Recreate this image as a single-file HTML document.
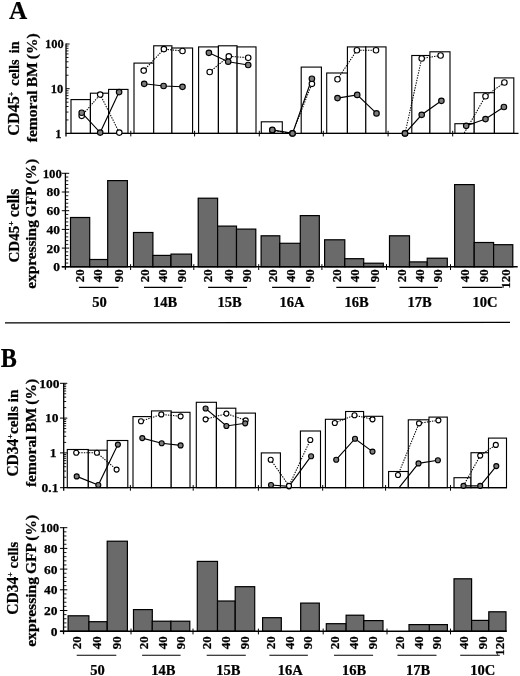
<!DOCTYPE html>
<html><head><meta charset="utf-8"><title>Figure</title>
<style>html,body{margin:0;padding:0;background:#fff;overflow:hidden}svg{display:block}</style></head>
<body>
<svg width="520" height="676" viewBox="0 0 520 676">
<rect width="520" height="676" fill="#fff"/>
<defs><filter id="soft" x="-2%" y="-2%" width="104%" height="104%"><feGaussianBlur stdDeviation="0.32"/></filter></defs>
<g filter="url(#soft)">
<text transform="translate(8.9,18.7) scale(0.97,1)" font-size="26" text-anchor="start" font-family="Liberation Serif, serif" font-weight="bold" stroke="#000" stroke-width="0.25">A</text>
<text transform="translate(0.7,366.8) scale(0.91,1)" font-size="26.5" text-anchor="start" font-family="Liberation Serif, serif" font-weight="bold" stroke="#000" stroke-width="0.25">B</text>
<rect x="71" y="99.6" width="19.4" height="33.8" fill="#fff" stroke="#000" stroke-width="1.12"/>
<rect x="90.4" y="93.2" width="18.2" height="40.2" fill="#fff" stroke="#000" stroke-width="1.12"/>
<rect x="108.6" y="89.4" width="19.4" height="44" fill="#fff" stroke="#000" stroke-width="1.12"/>
<rect x="134" y="63.1" width="19.7" height="70.3" fill="#fff" stroke="#000" stroke-width="1.12"/>
<rect x="153.7" y="45.8" width="18.2" height="87.6" fill="#fff" stroke="#000" stroke-width="1.12"/>
<rect x="171.9" y="48" width="20.7" height="85.4" fill="#fff" stroke="#000" stroke-width="1.12"/>
<rect x="198.6" y="46.9" width="19.8" height="86.5" fill="#fff" stroke="#000" stroke-width="1.12"/>
<rect x="218.4" y="45.8" width="18.7" height="87.6" fill="#fff" stroke="#000" stroke-width="1.12"/>
<rect x="237.1" y="46.9" width="18.9" height="86.5" fill="#fff" stroke="#000" stroke-width="1.12"/>
<rect x="261.3" y="121.8" width="21" height="11.6" fill="#fff" stroke="#000" stroke-width="1.12"/>
<rect x="301.2" y="67.1" width="20.2" height="66.3" fill="#fff" stroke="#000" stroke-width="1.12"/>
<rect x="326.7" y="73" width="20.7" height="60.4" fill="#fff" stroke="#000" stroke-width="1.12"/>
<rect x="347.4" y="46.9" width="18.4" height="86.5" fill="#fff" stroke="#000" stroke-width="1.12"/>
<rect x="365.8" y="46.9" width="20.2" height="86.5" fill="#fff" stroke="#000" stroke-width="1.12"/>
<rect x="411.8" y="55.5" width="18.1" height="77.9" fill="#fff" stroke="#000" stroke-width="1.12"/>
<rect x="429.9" y="51.8" width="20.1" height="81.6" fill="#fff" stroke="#000" stroke-width="1.12"/>
<rect x="454.9" y="123.7" width="19.3" height="9.7" fill="#fff" stroke="#000" stroke-width="1.12"/>
<rect x="474.2" y="92.7" width="20.2" height="40.7" fill="#fff" stroke="#000" stroke-width="1.12"/>
<rect x="494.4" y="77.9" width="19.4" height="55.5" fill="#fff" stroke="#000" stroke-width="1.12"/>
<line x1="66" y1="43.6" x2="66" y2="136.4" stroke="#000" stroke-width="1.3"/>
<line x1="65.5" y1="133.4" x2="518.5" y2="133.4" stroke="#000" stroke-width="1.3"/>
<line x1="66" y1="119.94" x2="68.5" y2="119.94" stroke="#000" stroke-width="0.9"/>
<line x1="66" y1="112.07" x2="68.5" y2="112.07" stroke="#000" stroke-width="0.9"/>
<line x1="66" y1="106.49" x2="68.5" y2="106.49" stroke="#000" stroke-width="0.9"/>
<line x1="66" y1="102.16" x2="68.5" y2="102.16" stroke="#000" stroke-width="0.9"/>
<line x1="66" y1="98.62" x2="68.5" y2="98.62" stroke="#000" stroke-width="0.9"/>
<line x1="66" y1="95.62" x2="68.5" y2="95.62" stroke="#000" stroke-width="0.9"/>
<line x1="66" y1="93.03" x2="68.5" y2="93.03" stroke="#000" stroke-width="0.9"/>
<line x1="66" y1="90.75" x2="68.5" y2="90.75" stroke="#000" stroke-width="0.9"/>
<line x1="66" y1="75.24" x2="68.5" y2="75.24" stroke="#000" stroke-width="0.9"/>
<line x1="66" y1="67.37" x2="68.5" y2="67.37" stroke="#000" stroke-width="0.9"/>
<line x1="66" y1="61.79" x2="68.5" y2="61.79" stroke="#000" stroke-width="0.9"/>
<line x1="66" y1="57.46" x2="68.5" y2="57.46" stroke="#000" stroke-width="0.9"/>
<line x1="66" y1="53.92" x2="68.5" y2="53.92" stroke="#000" stroke-width="0.9"/>
<line x1="66" y1="50.92" x2="68.5" y2="50.92" stroke="#000" stroke-width="0.9"/>
<line x1="66" y1="48.33" x2="68.5" y2="48.33" stroke="#000" stroke-width="0.9"/>
<line x1="66" y1="46.05" x2="68.5" y2="46.05" stroke="#000" stroke-width="0.9"/>
<line x1="66" y1="88.7" x2="69.6" y2="88.7" stroke="#000" stroke-width="1"/>
<line x1="66" y1="44" x2="69.6" y2="44" stroke="#000" stroke-width="1"/>
<text transform="translate(61.4,137.8) scale(0.96,1)" font-size="13" text-anchor="end" font-family="Liberation Serif, serif" font-weight="bold" stroke="#000" stroke-width="0.25">1</text>
<text transform="translate(63.3,93.1) scale(0.96,1)" font-size="13" text-anchor="end" font-family="Liberation Serif, serif" font-weight="bold" stroke="#000" stroke-width="0.25">10</text>
<text transform="translate(63.8,48.4) scale(0.96,1)" font-size="13" text-anchor="end" font-family="Liberation Serif, serif" font-weight="bold" stroke="#000" stroke-width="0.25">100</text>
<line x1="130.8" y1="130.8" x2="130.8" y2="136.4" stroke="#000" stroke-width="1"/>
<line x1="194.6" y1="130.8" x2="194.6" y2="136.4" stroke="#000" stroke-width="1"/>
<line x1="259.3" y1="130.8" x2="259.3" y2="136.4" stroke="#000" stroke-width="1"/>
<line x1="323.3" y1="130.8" x2="323.3" y2="136.4" stroke="#000" stroke-width="1"/>
<line x1="388.1" y1="130.8" x2="388.1" y2="136.4" stroke="#000" stroke-width="1"/>
<line x1="452.7" y1="130.8" x2="452.7" y2="136.4" stroke="#000" stroke-width="1"/>
<polyline points="81.7,115.8 100.2,94.6 119.3,132.6" fill="none" stroke="#000" stroke-width="1.05" stroke-dasharray="1.4 1.15"/>
<polyline points="143.7,70.6 163.9,49.1 182.5,51" fill="none" stroke="#000" stroke-width="1.05" stroke-dasharray="1.4 1.15"/>
<polyline points="209.7,72 228.8,56.3 248.2,57.7" fill="none" stroke="#000" stroke-width="1.05" stroke-dasharray="1.4 1.15"/>
<polyline points="272.3,130.5 292.5,133.4 311.9,83.8" fill="none" stroke="#000" stroke-width="1.05" stroke-dasharray="1.4 1.15"/>
<polyline points="337.5,79.2 356.9,50.2 376,50.2" fill="none" stroke="#000" stroke-width="1.05" stroke-dasharray="1.4 1.15"/>
<polyline points="405,133.4 421.7,58.5 440.6,55.5" fill="none" stroke="#000" stroke-width="1.05" stroke-dasharray="1.4 1.15"/>
<polyline points="464.3,133 485.5,96.2 504.4,82.5" fill="none" stroke="#000" stroke-width="1.05" stroke-dasharray="1.4 1.15"/>
<polyline points="81.7,112.7 100.2,132.6 119.1,92.1" fill="none" stroke="#000" stroke-width="1.15"/>
<polyline points="144.2,83.8 163.6,86 182.5,86.8" fill="none" stroke="#000" stroke-width="1.15"/>
<polyline points="208.9,52.8 228.2,61.7 248.2,65" fill="none" stroke="#000" stroke-width="1.15"/>
<polyline points="272.3,129.9 292.5,133.4 311.9,78.7" fill="none" stroke="#000" stroke-width="1.15"/>
<polyline points="337.5,98.1 357.2,94.9 376.5,113.4" fill="none" stroke="#000" stroke-width="1.15"/>
<polyline points="405,133.4 421.7,114.8 441.4,100.8" fill="none" stroke="#000" stroke-width="1.15"/>
<polyline points="466.2,125.8 485.5,119.1 503.9,107" fill="none" stroke="#000" stroke-width="1.15"/>
<circle cx="81.7" cy="115.8" r="2.75" fill="#fff" stroke="#000" stroke-width="1.15"/>
<circle cx="100.2" cy="94.6" r="2.75" fill="#fff" stroke="#000" stroke-width="1.15"/>
<circle cx="119.3" cy="132.6" r="2.75" fill="#fff" stroke="#000" stroke-width="1.15"/>
<circle cx="143.7" cy="70.6" r="2.75" fill="#fff" stroke="#000" stroke-width="1.15"/>
<circle cx="163.9" cy="49.1" r="2.75" fill="#fff" stroke="#000" stroke-width="1.15"/>
<circle cx="182.5" cy="51" r="2.75" fill="#fff" stroke="#000" stroke-width="1.15"/>
<circle cx="209.7" cy="72" r="2.75" fill="#fff" stroke="#000" stroke-width="1.15"/>
<circle cx="228.8" cy="56.3" r="2.75" fill="#fff" stroke="#000" stroke-width="1.15"/>
<circle cx="248.2" cy="57.7" r="2.75" fill="#fff" stroke="#000" stroke-width="1.15"/>
<circle cx="272.3" cy="130.5" r="2.75" fill="#fff" stroke="#000" stroke-width="1.15"/>
<circle cx="292.5" cy="133.4" r="2.75" fill="#fff" stroke="#000" stroke-width="1.15"/>
<circle cx="311.9" cy="83.8" r="2.75" fill="#fff" stroke="#000" stroke-width="1.15"/>
<circle cx="337.5" cy="79.2" r="2.75" fill="#fff" stroke="#000" stroke-width="1.15"/>
<circle cx="356.9" cy="50.2" r="2.75" fill="#fff" stroke="#000" stroke-width="1.15"/>
<circle cx="376" cy="50.2" r="2.75" fill="#fff" stroke="#000" stroke-width="1.15"/>
<circle cx="405" cy="133.4" r="2.75" fill="#fff" stroke="#000" stroke-width="1.15"/>
<circle cx="421.7" cy="58.5" r="2.75" fill="#fff" stroke="#000" stroke-width="1.15"/>
<circle cx="440.6" cy="55.5" r="2.75" fill="#fff" stroke="#000" stroke-width="1.15"/>
<circle cx="485.5" cy="96.2" r="2.75" fill="#fff" stroke="#000" stroke-width="1.15"/>
<circle cx="504.4" cy="82.5" r="2.75" fill="#fff" stroke="#000" stroke-width="1.15"/>
<circle cx="81.7" cy="112.7" r="2.75" fill="#7d7d7d" stroke="#000" stroke-width="1.15"/>
<circle cx="100.2" cy="132.6" r="2.75" fill="#7d7d7d" stroke="#000" stroke-width="1.15"/>
<circle cx="119.1" cy="92.1" r="2.75" fill="#7d7d7d" stroke="#000" stroke-width="1.15"/>
<circle cx="144.2" cy="83.8" r="2.75" fill="#7d7d7d" stroke="#000" stroke-width="1.15"/>
<circle cx="163.6" cy="86" r="2.75" fill="#7d7d7d" stroke="#000" stroke-width="1.15"/>
<circle cx="182.5" cy="86.8" r="2.75" fill="#7d7d7d" stroke="#000" stroke-width="1.15"/>
<circle cx="208.9" cy="52.8" r="2.75" fill="#7d7d7d" stroke="#000" stroke-width="1.15"/>
<circle cx="228.2" cy="61.7" r="2.75" fill="#7d7d7d" stroke="#000" stroke-width="1.15"/>
<circle cx="248.2" cy="65" r="2.75" fill="#7d7d7d" stroke="#000" stroke-width="1.15"/>
<circle cx="272.3" cy="129.9" r="2.75" fill="#7d7d7d" stroke="#000" stroke-width="1.15"/>
<circle cx="292.5" cy="133.4" r="2.75" fill="#7d7d7d" stroke="#000" stroke-width="1.15"/>
<circle cx="311.9" cy="78.7" r="2.75" fill="#7d7d7d" stroke="#000" stroke-width="1.15"/>
<circle cx="337.5" cy="98.1" r="2.75" fill="#7d7d7d" stroke="#000" stroke-width="1.15"/>
<circle cx="357.2" cy="94.9" r="2.75" fill="#7d7d7d" stroke="#000" stroke-width="1.15"/>
<circle cx="376.5" cy="113.4" r="2.75" fill="#7d7d7d" stroke="#000" stroke-width="1.15"/>
<circle cx="405" cy="133.4" r="2.75" fill="#7d7d7d" stroke="#000" stroke-width="1.15"/>
<circle cx="421.7" cy="114.8" r="2.75" fill="#7d7d7d" stroke="#000" stroke-width="1.15"/>
<circle cx="441.4" cy="100.8" r="2.75" fill="#7d7d7d" stroke="#000" stroke-width="1.15"/>
<circle cx="466.2" cy="125.8" r="2.75" fill="#7d7d7d" stroke="#000" stroke-width="1.15"/>
<circle cx="485.5" cy="119.1" r="2.75" fill="#7d7d7d" stroke="#000" stroke-width="1.15"/>
<circle cx="503.9" cy="107" r="2.75" fill="#7d7d7d" stroke="#000" stroke-width="1.15"/>
<text transform="translate(18.9,135.7) rotate(-90)" font-size="14.6" textLength="94.4" lengthAdjust="spacingAndGlyphs" word-spacing="2.5" font-family="Liberation Serif, serif" font-weight="bold" stroke="#000" stroke-width="0.25"><tspan font-size="16.4">CD45</tspan><tspan font-size="7.88" dy="-4.82">+</tspan><tspan dy="4.82"> cells in</tspan></text>
<text transform="translate(36.6,142.3) rotate(-90)" font-size="14.6" textLength="109.1" lengthAdjust="spacingAndGlyphs" word-spacing="-0.8" font-family="Liberation Serif, serif" font-weight="bold" stroke="#000" stroke-width="0.25">femoral BM (%)</text>
<rect x="70.5" y="217.5" width="19.2" height="49.3" fill="#6b6b6b" stroke="#000" stroke-width="1.2"/>
<rect x="89.7" y="259.5" width="18" height="7.3" fill="#6b6b6b" stroke="#000" stroke-width="1.2"/>
<rect x="107.7" y="180.6" width="19.7" height="86.2" fill="#6b6b6b" stroke="#000" stroke-width="1.2"/>
<rect x="133.5" y="232.5" width="19.4" height="34.3" fill="#6b6b6b" stroke="#000" stroke-width="1.2"/>
<rect x="152.9" y="255.4" width="18.1" height="11.4" fill="#6b6b6b" stroke="#000" stroke-width="1.2"/>
<rect x="171" y="254.1" width="20.5" height="12.7" fill="#6b6b6b" stroke="#000" stroke-width="1.2"/>
<rect x="198.2" y="198.2" width="19.4" height="68.6" fill="#6b6b6b" stroke="#000" stroke-width="1.2"/>
<rect x="217.6" y="226.1" width="18.9" height="40.7" fill="#6b6b6b" stroke="#000" stroke-width="1.2"/>
<rect x="236.5" y="229.1" width="19.3" height="37.7" fill="#6b6b6b" stroke="#000" stroke-width="1.2"/>
<rect x="261.1" y="235.8" width="18.7" height="31" fill="#6b6b6b" stroke="#000" stroke-width="1.2"/>
<rect x="279.8" y="243.3" width="20.5" height="23.5" fill="#6b6b6b" stroke="#000" stroke-width="1.2"/>
<rect x="300.3" y="215.6" width="19" height="51.2" fill="#6b6b6b" stroke="#000" stroke-width="1.2"/>
<rect x="324.6" y="239.8" width="20.2" height="27" fill="#6b6b6b" stroke="#000" stroke-width="1.2"/>
<rect x="344.8" y="258.7" width="18.9" height="8.1" fill="#6b6b6b" stroke="#000" stroke-width="1.2"/>
<rect x="363.7" y="263.2" width="19.6" height="3.6" fill="#6b6b6b" stroke="#000" stroke-width="1.2"/>
<rect x="389.5" y="235.8" width="20" height="31" fill="#6b6b6b" stroke="#000" stroke-width="1.2"/>
<rect x="409.5" y="261.9" width="17.7" height="4.9" fill="#6b6b6b" stroke="#000" stroke-width="1.2"/>
<rect x="427.2" y="258.2" width="20.1" height="8.6" fill="#6b6b6b" stroke="#000" stroke-width="1.2"/>
<rect x="454.6" y="184.6" width="19.6" height="82.2" fill="#6b6b6b" stroke="#000" stroke-width="1.2"/>
<rect x="474.2" y="242.5" width="19.4" height="24.3" fill="#6b6b6b" stroke="#000" stroke-width="1.2"/>
<rect x="493.6" y="244.7" width="19.2" height="22.1" fill="#6b6b6b" stroke="#000" stroke-width="1.2"/>
<line x1="65.4" y1="172.9" x2="65.4" y2="269.8" stroke="#000" stroke-width="1.3"/>
<line x1="61.800000000000004" y1="266.8" x2="517.7" y2="266.8" stroke="#000" stroke-width="1.5"/>
<line x1="61.800000000000004" y1="266.8" x2="69.2" y2="266.8" stroke="#000" stroke-width="1"/>
<text transform="translate(60.1,271.2)" font-size="13.5" text-anchor="end" font-family="Liberation Serif, serif" font-weight="bold" stroke="#000" stroke-width="0.25">0</text>
<line x1="61.800000000000004" y1="248.1" x2="69.2" y2="248.1" stroke="#000" stroke-width="1"/>
<text transform="translate(60.1,252.5)" font-size="13.5" text-anchor="end" font-family="Liberation Serif, serif" font-weight="bold" stroke="#000" stroke-width="0.25">20</text>
<line x1="61.800000000000004" y1="229.4" x2="69.2" y2="229.4" stroke="#000" stroke-width="1"/>
<text transform="translate(60.1,233.8)" font-size="13.5" text-anchor="end" font-family="Liberation Serif, serif" font-weight="bold" stroke="#000" stroke-width="0.25">40</text>
<line x1="61.800000000000004" y1="210.7" x2="69.2" y2="210.7" stroke="#000" stroke-width="1"/>
<text transform="translate(60.1,215.1)" font-size="13.5" text-anchor="end" font-family="Liberation Serif, serif" font-weight="bold" stroke="#000" stroke-width="0.25">60</text>
<line x1="61.800000000000004" y1="192" x2="69.2" y2="192" stroke="#000" stroke-width="1"/>
<text transform="translate(60.1,196.4)" font-size="13.5" text-anchor="end" font-family="Liberation Serif, serif" font-weight="bold" stroke="#000" stroke-width="0.25">80</text>
<line x1="61.800000000000004" y1="173.3" x2="69.2" y2="173.3" stroke="#000" stroke-width="1"/>
<text transform="translate(61.9,177.8) scale(0.95,1)" font-size="13.5" text-anchor="end" font-family="Liberation Serif, serif" font-weight="bold" stroke="#000" stroke-width="0.25">100</text>
<line x1="65.4" y1="263.06" x2="68.30000000000001" y2="263.06" stroke="#000" stroke-width="0.9"/>
<line x1="65.4" y1="259.32" x2="68.30000000000001" y2="259.32" stroke="#000" stroke-width="0.9"/>
<line x1="65.4" y1="255.58" x2="68.30000000000001" y2="255.58" stroke="#000" stroke-width="0.9"/>
<line x1="65.4" y1="251.84" x2="68.30000000000001" y2="251.84" stroke="#000" stroke-width="0.9"/>
<line x1="65.4" y1="244.36" x2="68.30000000000001" y2="244.36" stroke="#000" stroke-width="0.9"/>
<line x1="65.4" y1="240.62" x2="68.30000000000001" y2="240.62" stroke="#000" stroke-width="0.9"/>
<line x1="65.4" y1="236.88" x2="68.30000000000001" y2="236.88" stroke="#000" stroke-width="0.9"/>
<line x1="65.4" y1="233.14" x2="68.30000000000001" y2="233.14" stroke="#000" stroke-width="0.9"/>
<line x1="65.4" y1="225.66" x2="68.30000000000001" y2="225.66" stroke="#000" stroke-width="0.9"/>
<line x1="65.4" y1="221.92" x2="68.30000000000001" y2="221.92" stroke="#000" stroke-width="0.9"/>
<line x1="65.4" y1="218.18" x2="68.30000000000001" y2="218.18" stroke="#000" stroke-width="0.9"/>
<line x1="65.4" y1="214.44" x2="68.30000000000001" y2="214.44" stroke="#000" stroke-width="0.9"/>
<line x1="65.4" y1="206.96" x2="68.30000000000001" y2="206.96" stroke="#000" stroke-width="0.9"/>
<line x1="65.4" y1="203.22" x2="68.30000000000001" y2="203.22" stroke="#000" stroke-width="0.9"/>
<line x1="65.4" y1="199.48" x2="68.30000000000001" y2="199.48" stroke="#000" stroke-width="0.9"/>
<line x1="65.4" y1="195.74" x2="68.30000000000001" y2="195.74" stroke="#000" stroke-width="0.9"/>
<line x1="65.4" y1="188.26" x2="68.30000000000001" y2="188.26" stroke="#000" stroke-width="0.9"/>
<line x1="65.4" y1="184.52" x2="68.30000000000001" y2="184.52" stroke="#000" stroke-width="0.9"/>
<line x1="65.4" y1="180.78" x2="68.30000000000001" y2="180.78" stroke="#000" stroke-width="0.9"/>
<line x1="65.4" y1="177.04" x2="68.30000000000001" y2="177.04" stroke="#000" stroke-width="0.9"/>
<line x1="130.6" y1="264.2" x2="130.6" y2="270.0" stroke="#000" stroke-width="1"/>
<line x1="193.8" y1="264.2" x2="193.8" y2="270.0" stroke="#000" stroke-width="1"/>
<line x1="258.7" y1="264.2" x2="258.7" y2="270.0" stroke="#000" stroke-width="1"/>
<line x1="321.9" y1="264.2" x2="321.9" y2="270.0" stroke="#000" stroke-width="1"/>
<line x1="386.5" y1="264.2" x2="386.5" y2="270.0" stroke="#000" stroke-width="1"/>
<line x1="450.5" y1="264.2" x2="450.5" y2="270.0" stroke="#000" stroke-width="1"/>
<text transform="translate(84.1,269.2) rotate(-90) scale(0.96,1)" font-size="13.5" text-anchor="end" font-family="Liberation Serif, serif" font-weight="bold" stroke="#000" stroke-width="0.25">20</text>
<text transform="translate(102.3,269.2) rotate(-90) scale(0.96,1)" font-size="13.5" text-anchor="end" font-family="Liberation Serif, serif" font-weight="bold" stroke="#000" stroke-width="0.25">40</text>
<text transform="translate(122.9,269.2) rotate(-90) scale(0.96,1)" font-size="13.5" text-anchor="end" font-family="Liberation Serif, serif" font-weight="bold" stroke="#000" stroke-width="0.25">90</text>
<text transform="translate(148.6,269.2) rotate(-90) scale(0.96,1)" font-size="13.5" text-anchor="end" font-family="Liberation Serif, serif" font-weight="bold" stroke="#000" stroke-width="0.25">20</text>
<text transform="translate(167,269.2) rotate(-90) scale(0.96,1)" font-size="13.5" text-anchor="end" font-family="Liberation Serif, serif" font-weight="bold" stroke="#000" stroke-width="0.25">40</text>
<text transform="translate(185.9,269.2) rotate(-90) scale(0.96,1)" font-size="13.5" text-anchor="end" font-family="Liberation Serif, serif" font-weight="bold" stroke="#000" stroke-width="0.25">90</text>
<text transform="translate(211.9,269.2) rotate(-90) scale(0.96,1)" font-size="13.5" text-anchor="end" font-family="Liberation Serif, serif" font-weight="bold" stroke="#000" stroke-width="0.25">20</text>
<text transform="translate(232.6,269.2) rotate(-90) scale(0.96,1)" font-size="13.5" text-anchor="end" font-family="Liberation Serif, serif" font-weight="bold" stroke="#000" stroke-width="0.25">40</text>
<text transform="translate(250.7,269.2) rotate(-90) scale(0.96,1)" font-size="13.5" text-anchor="end" font-family="Liberation Serif, serif" font-weight="bold" stroke="#000" stroke-width="0.25">90</text>
<text transform="translate(276.5,269.2) rotate(-90) scale(0.96,1)" font-size="13.5" text-anchor="end" font-family="Liberation Serif, serif" font-weight="bold" stroke="#000" stroke-width="0.25">20</text>
<text transform="translate(295.3,269.2) rotate(-90) scale(0.96,1)" font-size="13.5" text-anchor="end" font-family="Liberation Serif, serif" font-weight="bold" stroke="#000" stroke-width="0.25">40</text>
<text transform="translate(313.7,269.2) rotate(-90) scale(0.96,1)" font-size="13.5" text-anchor="end" font-family="Liberation Serif, serif" font-weight="bold" stroke="#000" stroke-width="0.25">90</text>
<text transform="translate(340.9,269.2) rotate(-90) scale(0.96,1)" font-size="13.5" text-anchor="end" font-family="Liberation Serif, serif" font-weight="bold" stroke="#000" stroke-width="0.25">20</text>
<text transform="translate(359,269.2) rotate(-90) scale(0.96,1)" font-size="13.5" text-anchor="end" font-family="Liberation Serif, serif" font-weight="bold" stroke="#000" stroke-width="0.25">40</text>
<text transform="translate(379.3,269.2) rotate(-90) scale(0.96,1)" font-size="13.5" text-anchor="end" font-family="Liberation Serif, serif" font-weight="bold" stroke="#000" stroke-width="0.25">90</text>
<text transform="translate(406,269.2) rotate(-90) scale(0.96,1)" font-size="13.5" text-anchor="end" font-family="Liberation Serif, serif" font-weight="bold" stroke="#000" stroke-width="0.25">20</text>
<text transform="translate(423.9,269.2) rotate(-90) scale(0.96,1)" font-size="13.5" text-anchor="end" font-family="Liberation Serif, serif" font-weight="bold" stroke="#000" stroke-width="0.25">40</text>
<text transform="translate(441.8,269.2) rotate(-90) scale(0.96,1)" font-size="13.5" text-anchor="end" font-family="Liberation Serif, serif" font-weight="bold" stroke="#000" stroke-width="0.25">90</text>
<text transform="translate(469.3,269.2) rotate(-90) scale(0.96,1)" font-size="13.5" text-anchor="end" font-family="Liberation Serif, serif" font-weight="bold" stroke="#000" stroke-width="0.25">40</text>
<text transform="translate(488,269.2) rotate(-90) scale(0.96,1)" font-size="13.5" text-anchor="end" font-family="Liberation Serif, serif" font-weight="bold" stroke="#000" stroke-width="0.25">90</text>
<text transform="translate(509.5,269.2) rotate(-90) scale(0.96,1)" font-size="13.5" text-anchor="end" font-family="Liberation Serif, serif" font-weight="bold" stroke="#000" stroke-width="0.25">120</text>
<text transform="translate(99.4,306.8) scale(0.97,1)" font-size="15" text-anchor="middle" font-family="Liberation Serif, serif" font-weight="bold" stroke="#000" stroke-width="0.25">50</text>
<text transform="translate(165,306.8) scale(0.97,1)" font-size="15" text-anchor="middle" font-family="Liberation Serif, serif" font-weight="bold" stroke="#000" stroke-width="0.25">14B</text>
<text transform="translate(229.6,306.8) scale(0.97,1)" font-size="15" text-anchor="middle" font-family="Liberation Serif, serif" font-weight="bold" stroke="#000" stroke-width="0.25">15B</text>
<text transform="translate(292,306.8) scale(0.97,1)" font-size="15" text-anchor="middle" font-family="Liberation Serif, serif" font-weight="bold" stroke="#000" stroke-width="0.25">16A</text>
<text transform="translate(356.5,306.8) scale(0.97,1)" font-size="15" text-anchor="middle" font-family="Liberation Serif, serif" font-weight="bold" stroke="#000" stroke-width="0.25">16B</text>
<text transform="translate(419.7,306.8) scale(0.97,1)" font-size="15" text-anchor="middle" font-family="Liberation Serif, serif" font-weight="bold" stroke="#000" stroke-width="0.25">17B</text>
<text transform="translate(485,306.8) scale(0.97,1)" font-size="15" text-anchor="middle" font-family="Liberation Serif, serif" font-weight="bold" stroke="#000" stroke-width="0.25">10C</text>
<line x1="78.9" y1="287.4" x2="118.5" y2="287.4" stroke="#000" stroke-width="1.1"/>
<line x1="144" y1="287.4" x2="182.5" y2="287.4" stroke="#000" stroke-width="1.1"/>
<line x1="208.1" y1="287.4" x2="247.1" y2="287.4" stroke="#000" stroke-width="1.1"/>
<line x1="272.1" y1="287.4" x2="310.3" y2="287.4" stroke="#000" stroke-width="1.1"/>
<line x1="336.3" y1="287.4" x2="375.7" y2="287.4" stroke="#000" stroke-width="1.1"/>
<line x1="399.4" y1="287.4" x2="437.9" y2="287.4" stroke="#000" stroke-width="1.1"/>
<line x1="462.1" y1="287.4" x2="502.5" y2="287.4" stroke="#000" stroke-width="1.1"/>
<text transform="translate(19,262.5) rotate(-90)" font-size="15.8" textLength="73.9" lengthAdjust="spacingAndGlyphs" word-spacing="0" font-family="Liberation Serif, serif" font-weight="bold" stroke="#000" stroke-width="0.25"><tspan font-size="15.2">CD45</tspan><tspan font-size="8.53" dy="-5.21">+</tspan><tspan dy="5.21"> cells</tspan></text>
<text transform="translate(36.4,288.8) rotate(-90)" font-size="14.6" textLength="129.8" lengthAdjust="spacingAndGlyphs" word-spacing="-0.8" font-family="Liberation Serif, serif" font-weight="bold" stroke="#000" stroke-width="0.25">expressing GFP (%)</text>
<line x1="5" y1="322.9" x2="510" y2="322.3" stroke="#000" stroke-width="1.3"/>
<rect x="67.3" y="449.5" width="21" height="38.2" fill="#fff" stroke="#000" stroke-width="1.12"/>
<rect x="88.3" y="450.2" width="18.9" height="37.5" fill="#fff" stroke="#000" stroke-width="1.12"/>
<rect x="107.2" y="440.5" width="20.6" height="47.2" fill="#fff" stroke="#000" stroke-width="1.12"/>
<rect x="133" y="416.6" width="18.5" height="71.1" fill="#fff" stroke="#000" stroke-width="1.12"/>
<rect x="151.5" y="410.9" width="19.7" height="76.8" fill="#fff" stroke="#000" stroke-width="1.12"/>
<rect x="171.2" y="412.3" width="18.8" height="75.4" fill="#fff" stroke="#000" stroke-width="1.12"/>
<rect x="196.3" y="402.3" width="20.1" height="85.4" fill="#fff" stroke="#000" stroke-width="1.12"/>
<rect x="216.4" y="408.2" width="19.4" height="79.5" fill="#fff" stroke="#000" stroke-width="1.12"/>
<rect x="235.8" y="413.1" width="19.6" height="74.6" fill="#fff" stroke="#000" stroke-width="1.12"/>
<rect x="261.3" y="452.9" width="19.1" height="34.8" fill="#fff" stroke="#000" stroke-width="1.12"/>
<rect x="300.4" y="431" width="20.1" height="56.7" fill="#fff" stroke="#000" stroke-width="1.12"/>
<rect x="325.4" y="419.3" width="20.2" height="68.4" fill="#fff" stroke="#000" stroke-width="1.12"/>
<rect x="345.6" y="411.5" width="18" height="76.2" fill="#fff" stroke="#000" stroke-width="1.12"/>
<rect x="363.6" y="416.3" width="19.1" height="71.4" fill="#fff" stroke="#000" stroke-width="1.12"/>
<rect x="388.6" y="471.5" width="19.7" height="16.2" fill="#fff" stroke="#000" stroke-width="1.12"/>
<rect x="408.3" y="419.8" width="20.7" height="67.9" fill="#fff" stroke="#000" stroke-width="1.12"/>
<rect x="429" y="417.1" width="18.3" height="70.6" fill="#fff" stroke="#000" stroke-width="1.12"/>
<rect x="454" y="477.7" width="17" height="10" fill="#fff" stroke="#000" stroke-width="1.12"/>
<rect x="471" y="452.7" width="17.5" height="35" fill="#fff" stroke="#000" stroke-width="1.12"/>
<rect x="488.5" y="438.1" width="18" height="49.6" fill="#fff" stroke="#000" stroke-width="1.12"/>
<line x1="63.7" y1="382.90000000000003" x2="63.7" y2="490.7" stroke="#000" stroke-width="1.3"/>
<line x1="63.2" y1="487.7" x2="507" y2="487.7" stroke="#000" stroke-width="1.3"/>
<line x1="63.7" y1="477.22" x2="66.2" y2="477.22" stroke="#000" stroke-width="0.9"/>
<line x1="63.7" y1="471.1" x2="66.2" y2="471.1" stroke="#000" stroke-width="0.9"/>
<line x1="63.7" y1="466.75" x2="66.2" y2="466.75" stroke="#000" stroke-width="0.9"/>
<line x1="63.7" y1="463.38" x2="66.2" y2="463.38" stroke="#000" stroke-width="0.9"/>
<line x1="63.7" y1="460.62" x2="66.2" y2="460.62" stroke="#000" stroke-width="0.9"/>
<line x1="63.7" y1="458.29" x2="66.2" y2="458.29" stroke="#000" stroke-width="0.9"/>
<line x1="63.7" y1="456.27" x2="66.2" y2="456.27" stroke="#000" stroke-width="0.9"/>
<line x1="63.7" y1="454.49" x2="66.2" y2="454.49" stroke="#000" stroke-width="0.9"/>
<line x1="63.7" y1="442.42" x2="66.2" y2="442.42" stroke="#000" stroke-width="0.9"/>
<line x1="63.7" y1="436.3" x2="66.2" y2="436.3" stroke="#000" stroke-width="0.9"/>
<line x1="63.7" y1="431.95" x2="66.2" y2="431.95" stroke="#000" stroke-width="0.9"/>
<line x1="63.7" y1="428.58" x2="66.2" y2="428.58" stroke="#000" stroke-width="0.9"/>
<line x1="63.7" y1="425.82" x2="66.2" y2="425.82" stroke="#000" stroke-width="0.9"/>
<line x1="63.7" y1="423.49" x2="66.2" y2="423.49" stroke="#000" stroke-width="0.9"/>
<line x1="63.7" y1="421.47" x2="66.2" y2="421.47" stroke="#000" stroke-width="0.9"/>
<line x1="63.7" y1="419.69" x2="66.2" y2="419.69" stroke="#000" stroke-width="0.9"/>
<line x1="63.7" y1="407.62" x2="66.2" y2="407.62" stroke="#000" stroke-width="0.9"/>
<line x1="63.7" y1="401.5" x2="66.2" y2="401.5" stroke="#000" stroke-width="0.9"/>
<line x1="63.7" y1="397.15" x2="66.2" y2="397.15" stroke="#000" stroke-width="0.9"/>
<line x1="63.7" y1="393.78" x2="66.2" y2="393.78" stroke="#000" stroke-width="0.9"/>
<line x1="63.7" y1="391.02" x2="66.2" y2="391.02" stroke="#000" stroke-width="0.9"/>
<line x1="63.7" y1="388.69" x2="66.2" y2="388.69" stroke="#000" stroke-width="0.9"/>
<line x1="63.7" y1="386.67" x2="66.2" y2="386.67" stroke="#000" stroke-width="0.9"/>
<line x1="63.7" y1="384.89" x2="66.2" y2="384.89" stroke="#000" stroke-width="0.9"/>
<line x1="60.0" y1="487.7" x2="63.7" y2="487.7" stroke="#000" stroke-width="1"/>
<line x1="60.0" y1="452.9" x2="67.3" y2="452.9" stroke="#000" stroke-width="1"/>
<line x1="60.0" y1="418.1" x2="67.3" y2="418.1" stroke="#000" stroke-width="1"/>
<line x1="60.0" y1="383.3" x2="67.3" y2="383.3" stroke="#000" stroke-width="1"/>
<text transform="translate(58.4,491.9)" font-size="13.5" text-anchor="end" font-family="Liberation Serif, serif" font-weight="bold" stroke="#000" stroke-width="0.25">0.1</text>
<text transform="translate(56.6,457.1)" font-size="13.5" text-anchor="end" font-family="Liberation Serif, serif" font-weight="bold" stroke="#000" stroke-width="0.25">1</text>
<text transform="translate(58.5,422.3)" font-size="13.5" text-anchor="end" font-family="Liberation Serif, serif" font-weight="bold" stroke="#000" stroke-width="0.25">10</text>
<text transform="translate(59.4,387.5)" font-size="13.5" text-anchor="end" font-family="Liberation Serif, serif" font-weight="bold" stroke="#000" stroke-width="0.25">100</text>
<line x1="130.4" y1="485.09999999999997" x2="130.4" y2="490.7" stroke="#000" stroke-width="1"/>
<line x1="193.2" y1="485.09999999999997" x2="193.2" y2="490.7" stroke="#000" stroke-width="1"/>
<line x1="258.4" y1="485.09999999999997" x2="258.4" y2="490.7" stroke="#000" stroke-width="1"/>
<line x1="322.7" y1="485.09999999999997" x2="322.7" y2="490.7" stroke="#000" stroke-width="1"/>
<line x1="385.6" y1="485.09999999999997" x2="385.6" y2="490.7" stroke="#000" stroke-width="1"/>
<line x1="450.5" y1="485.09999999999997" x2="450.5" y2="490.7" stroke="#000" stroke-width="1"/>
<polyline points="76.2,452.7 96.9,452.7 116.6,469.6" fill="none" stroke="#000" stroke-width="1.05" stroke-dasharray="1.4 1.15"/>
<polyline points="141,421.2 161.3,414.4 180.6,416.3" fill="none" stroke="#000" stroke-width="1.05" stroke-dasharray="1.4 1.15"/>
<polyline points="205.6,419.3 226.4,413.6 245.7,420.3" fill="none" stroke="#000" stroke-width="1.05" stroke-dasharray="1.4 1.15"/>
<polyline points="270.7,459.7 289,485.8 310.3,440" fill="none" stroke="#000" stroke-width="1.05" stroke-dasharray="1.4 1.15"/>
<polyline points="334.8,423 354.5,415.2 372.5,419.3" fill="none" stroke="#000" stroke-width="1.05" stroke-dasharray="1.4 1.15"/>
<polyline points="398,475 419,423.3 438.4,420.3" fill="none" stroke="#000" stroke-width="1.05" stroke-dasharray="1.4 1.15"/>
<polyline points="463.5,485.8 480.2,455.6 495.8,444.9" fill="none" stroke="#000" stroke-width="1.05" stroke-dasharray="1.4 1.15"/>
<polyline points="76.7,476.4 98.3,485 117.9,444.6" fill="none" stroke="#000" stroke-width="1.15"/>
<polyline points="142.3,438.1 161.7,443.2 180.6,445.4" fill="none" stroke="#000" stroke-width="1.15"/>
<polyline points="205.6,408.5 226.4,426 245.2,423.3" fill="none" stroke="#000" stroke-width="1.15"/>
<polyline points="271,485 289,486.3 311.1,456.2" fill="none" stroke="#000" stroke-width="1.15"/>
<polyline points="336.2,459.7 355,438.7 372.5,451.6" fill="none" stroke="#000" stroke-width="1.15"/>
<polyline points="398.9,487.8 418.5,463.4 437.9,460.2" fill="none" stroke="#000" stroke-width="1.15"/>
<polyline points="463.5,485.8 480.2,485.8 496.3,466.1" fill="none" stroke="#000" stroke-width="1.15"/>
<circle cx="76.2" cy="452.7" r="2.5" fill="#fff" stroke="#000" stroke-width="1.15"/>
<circle cx="96.9" cy="452.7" r="2.5" fill="#fff" stroke="#000" stroke-width="1.15"/>
<circle cx="116.6" cy="469.6" r="2.5" fill="#fff" stroke="#000" stroke-width="1.15"/>
<circle cx="141" cy="421.2" r="2.5" fill="#fff" stroke="#000" stroke-width="1.15"/>
<circle cx="161.3" cy="414.4" r="2.5" fill="#fff" stroke="#000" stroke-width="1.15"/>
<circle cx="180.6" cy="416.3" r="2.5" fill="#fff" stroke="#000" stroke-width="1.15"/>
<circle cx="205.6" cy="419.3" r="2.5" fill="#fff" stroke="#000" stroke-width="1.15"/>
<circle cx="226.4" cy="413.6" r="2.5" fill="#fff" stroke="#000" stroke-width="1.15"/>
<circle cx="245.7" cy="420.3" r="2.5" fill="#fff" stroke="#000" stroke-width="1.15"/>
<circle cx="270.7" cy="459.7" r="2.5" fill="#fff" stroke="#000" stroke-width="1.15"/>
<circle cx="310.3" cy="440" r="2.5" fill="#fff" stroke="#000" stroke-width="1.15"/>
<circle cx="334.8" cy="423" r="2.5" fill="#fff" stroke="#000" stroke-width="1.15"/>
<circle cx="354.5" cy="415.2" r="2.5" fill="#fff" stroke="#000" stroke-width="1.15"/>
<circle cx="372.5" cy="419.3" r="2.5" fill="#fff" stroke="#000" stroke-width="1.15"/>
<circle cx="398" cy="475" r="2.5" fill="#fff" stroke="#000" stroke-width="1.15"/>
<circle cx="419" cy="423.3" r="2.5" fill="#fff" stroke="#000" stroke-width="1.15"/>
<circle cx="438.4" cy="420.3" r="2.5" fill="#fff" stroke="#000" stroke-width="1.15"/>
<circle cx="480.2" cy="455.6" r="2.5" fill="#fff" stroke="#000" stroke-width="1.15"/>
<circle cx="495.8" cy="444.9" r="2.5" fill="#fff" stroke="#000" stroke-width="1.15"/>
<circle cx="76.7" cy="476.4" r="2.5" fill="#7d7d7d" stroke="#000" stroke-width="1.15"/>
<circle cx="98.3" cy="485" r="2.5" fill="#7d7d7d" stroke="#000" stroke-width="1.15"/>
<circle cx="117.9" cy="444.6" r="2.5" fill="#7d7d7d" stroke="#000" stroke-width="1.15"/>
<circle cx="142.3" cy="438.1" r="2.5" fill="#7d7d7d" stroke="#000" stroke-width="1.15"/>
<circle cx="161.7" cy="443.2" r="2.5" fill="#7d7d7d" stroke="#000" stroke-width="1.15"/>
<circle cx="180.6" cy="445.4" r="2.5" fill="#7d7d7d" stroke="#000" stroke-width="1.15"/>
<circle cx="205.6" cy="408.5" r="2.5" fill="#7d7d7d" stroke="#000" stroke-width="1.15"/>
<circle cx="226.4" cy="426" r="2.5" fill="#7d7d7d" stroke="#000" stroke-width="1.15"/>
<circle cx="245.2" cy="423.3" r="2.5" fill="#7d7d7d" stroke="#000" stroke-width="1.15"/>
<circle cx="271" cy="485" r="2.5" fill="#7d7d7d" stroke="#000" stroke-width="1.15"/>
<circle cx="289" cy="486.3" r="2.5" fill="#7d7d7d" stroke="#000" stroke-width="1.15"/>
<circle cx="311.1" cy="456.2" r="2.5" fill="#7d7d7d" stroke="#000" stroke-width="1.15"/>
<circle cx="336.2" cy="459.7" r="2.5" fill="#7d7d7d" stroke="#000" stroke-width="1.15"/>
<circle cx="355" cy="438.7" r="2.5" fill="#7d7d7d" stroke="#000" stroke-width="1.15"/>
<circle cx="372.5" cy="451.6" r="2.5" fill="#7d7d7d" stroke="#000" stroke-width="1.15"/>
<circle cx="418.5" cy="463.4" r="2.5" fill="#7d7d7d" stroke="#000" stroke-width="1.15"/>
<circle cx="437.9" cy="460.2" r="2.5" fill="#7d7d7d" stroke="#000" stroke-width="1.15"/>
<circle cx="463.5" cy="485.8" r="2.5" fill="#7d7d7d" stroke="#000" stroke-width="1.15"/>
<circle cx="480.2" cy="485.8" r="2.5" fill="#7d7d7d" stroke="#000" stroke-width="1.15"/>
<circle cx="496.3" cy="466.1" r="2.5" fill="#7d7d7d" stroke="#000" stroke-width="1.15"/>
<circle cx="289" cy="485.8" r="2.5" fill="#fff" stroke="#000" stroke-width="1.15"/>
<text transform="translate(17.8,476.6) rotate(-90)" font-size="15.4" textLength="87" lengthAdjust="spacingAndGlyphs" word-spacing="0" font-family="Liberation Serif, serif" font-weight="bold" stroke="#000" stroke-width="0.25"><tspan font-size="15.7">CD34</tspan><tspan font-size="8.32" dy="-5.08">+</tspan><tspan dy="5.08">cells in</tspan></text>
<text transform="translate(35.8,487.1) rotate(-90)" font-size="14.6" textLength="108.2" lengthAdjust="spacingAndGlyphs" word-spacing="-0.8" font-family="Liberation Serif, serif" font-weight="bold" stroke="#000" stroke-width="0.25">femoral BM (%)</text>
<rect x="68.1" y="615.8" width="20.8" height="15.4" fill="#6b6b6b" stroke="#000" stroke-width="1.2"/>
<rect x="88.9" y="621.7" width="18.3" height="9.5" fill="#6b6b6b" stroke="#000" stroke-width="1.2"/>
<rect x="107.2" y="541.2" width="20.2" height="90" fill="#6b6b6b" stroke="#000" stroke-width="1.2"/>
<rect x="133.5" y="609.6" width="18.8" height="21.6" fill="#6b6b6b" stroke="#000" stroke-width="1.2"/>
<rect x="152.3" y="621.2" width="18.6" height="10" fill="#6b6b6b" stroke="#000" stroke-width="1.2"/>
<rect x="170.9" y="621.2" width="18.9" height="10" fill="#6b6b6b" stroke="#000" stroke-width="1.2"/>
<rect x="197.3" y="561.4" width="20.2" height="69.8" fill="#6b6b6b" stroke="#000" stroke-width="1.2"/>
<rect x="217.5" y="601" width="17.7" height="30.2" fill="#6b6b6b" stroke="#000" stroke-width="1.2"/>
<rect x="235.2" y="586.7" width="19.5" height="44.5" fill="#6b6b6b" stroke="#000" stroke-width="1.2"/>
<rect x="262.6" y="617.7" width="18.7" height="13.5" fill="#6b6b6b" stroke="#000" stroke-width="1.2"/>
<rect x="300.7" y="603.1" width="18.6" height="28.1" fill="#6b6b6b" stroke="#000" stroke-width="1.2"/>
<rect x="326.3" y="623.7" width="19.8" height="7.5" fill="#6b6b6b" stroke="#000" stroke-width="1.2"/>
<rect x="346.1" y="615.2" width="17.7" height="16" fill="#6b6b6b" stroke="#000" stroke-width="1.2"/>
<rect x="363.8" y="620.6" width="19.2" height="10.6" fill="#6b6b6b" stroke="#000" stroke-width="1.2"/>
<rect x="409" y="624.6" width="20.4" height="6.6" fill="#6b6b6b" stroke="#000" stroke-width="1.2"/>
<rect x="429.4" y="624.6" width="18" height="6.6" fill="#6b6b6b" stroke="#000" stroke-width="1.2"/>
<rect x="454" y="578.8" width="17.6" height="52.4" fill="#6b6b6b" stroke="#000" stroke-width="1.2"/>
<rect x="471.6" y="620.4" width="17.2" height="10.8" fill="#6b6b6b" stroke="#000" stroke-width="1.2"/>
<rect x="488.8" y="611.8" width="17.2" height="19.4" fill="#6b6b6b" stroke="#000" stroke-width="1.2"/>
<line x1="63.55" y1="527.3000000000001" x2="63.55" y2="634.2" stroke="#000" stroke-width="1.3"/>
<line x1="59.949999999999996" y1="631.2" x2="506.7" y2="631.2" stroke="#000" stroke-width="1.5"/>
<line x1="59.949999999999996" y1="631.2" x2="67.35" y2="631.2" stroke="#000" stroke-width="1"/>
<text transform="translate(57.4,635.6)" font-size="13.5" text-anchor="end" font-family="Liberation Serif, serif" font-weight="bold" stroke="#000" stroke-width="0.25">0</text>
<line x1="59.949999999999996" y1="610.5" x2="67.35" y2="610.5" stroke="#000" stroke-width="1"/>
<text transform="translate(57.4,614.9)" font-size="13.5" text-anchor="end" font-family="Liberation Serif, serif" font-weight="bold" stroke="#000" stroke-width="0.25">20</text>
<line x1="59.949999999999996" y1="589.8" x2="67.35" y2="589.8" stroke="#000" stroke-width="1"/>
<text transform="translate(57.4,594.2)" font-size="13.5" text-anchor="end" font-family="Liberation Serif, serif" font-weight="bold" stroke="#000" stroke-width="0.25">40</text>
<line x1="59.949999999999996" y1="569.1" x2="67.35" y2="569.1" stroke="#000" stroke-width="1"/>
<text transform="translate(57.4,573.5)" font-size="13.5" text-anchor="end" font-family="Liberation Serif, serif" font-weight="bold" stroke="#000" stroke-width="0.25">60</text>
<line x1="59.949999999999996" y1="548.4" x2="67.35" y2="548.4" stroke="#000" stroke-width="1"/>
<text transform="translate(57.4,552.8)" font-size="13.5" text-anchor="end" font-family="Liberation Serif, serif" font-weight="bold" stroke="#000" stroke-width="0.25">80</text>
<line x1="59.949999999999996" y1="527.7" x2="67.35" y2="527.7" stroke="#000" stroke-width="1"/>
<text transform="translate(59.2,532.2) scale(0.95,1)" font-size="13.5" text-anchor="end" font-family="Liberation Serif, serif" font-weight="bold" stroke="#000" stroke-width="0.25">100</text>
<line x1="63.55" y1="627.06" x2="66.45" y2="627.06" stroke="#000" stroke-width="0.9"/>
<line x1="63.55" y1="622.92" x2="66.45" y2="622.92" stroke="#000" stroke-width="0.9"/>
<line x1="63.55" y1="618.78" x2="66.45" y2="618.78" stroke="#000" stroke-width="0.9"/>
<line x1="63.55" y1="614.64" x2="66.45" y2="614.64" stroke="#000" stroke-width="0.9"/>
<line x1="63.55" y1="606.36" x2="66.45" y2="606.36" stroke="#000" stroke-width="0.9"/>
<line x1="63.55" y1="602.22" x2="66.45" y2="602.22" stroke="#000" stroke-width="0.9"/>
<line x1="63.55" y1="598.08" x2="66.45" y2="598.08" stroke="#000" stroke-width="0.9"/>
<line x1="63.55" y1="593.94" x2="66.45" y2="593.94" stroke="#000" stroke-width="0.9"/>
<line x1="63.55" y1="585.66" x2="66.45" y2="585.66" stroke="#000" stroke-width="0.9"/>
<line x1="63.55" y1="581.52" x2="66.45" y2="581.52" stroke="#000" stroke-width="0.9"/>
<line x1="63.55" y1="577.38" x2="66.45" y2="577.38" stroke="#000" stroke-width="0.9"/>
<line x1="63.55" y1="573.24" x2="66.45" y2="573.24" stroke="#000" stroke-width="0.9"/>
<line x1="63.55" y1="564.96" x2="66.45" y2="564.96" stroke="#000" stroke-width="0.9"/>
<line x1="63.55" y1="560.82" x2="66.45" y2="560.82" stroke="#000" stroke-width="0.9"/>
<line x1="63.55" y1="556.68" x2="66.45" y2="556.68" stroke="#000" stroke-width="0.9"/>
<line x1="63.55" y1="552.54" x2="66.45" y2="552.54" stroke="#000" stroke-width="0.9"/>
<line x1="63.55" y1="544.26" x2="66.45" y2="544.26" stroke="#000" stroke-width="0.9"/>
<line x1="63.55" y1="540.12" x2="66.45" y2="540.12" stroke="#000" stroke-width="0.9"/>
<line x1="63.55" y1="535.98" x2="66.45" y2="535.98" stroke="#000" stroke-width="0.9"/>
<line x1="63.55" y1="531.84" x2="66.45" y2="531.84" stroke="#000" stroke-width="0.9"/>
<line x1="131" y1="628.6" x2="131" y2="634.4000000000001" stroke="#000" stroke-width="1"/>
<line x1="193" y1="628.6" x2="193" y2="634.4000000000001" stroke="#000" stroke-width="1"/>
<line x1="258.4" y1="628.6" x2="258.4" y2="634.4000000000001" stroke="#000" stroke-width="1"/>
<line x1="323.2" y1="628.6" x2="323.2" y2="634.4000000000001" stroke="#000" stroke-width="1"/>
<line x1="387" y1="628.6" x2="387" y2="634.4000000000001" stroke="#000" stroke-width="1"/>
<line x1="450.5" y1="628.6" x2="450.5" y2="634.4000000000001" stroke="#000" stroke-width="1"/>
<text transform="translate(81.3,636.3) rotate(-90) scale(0.96,1)" font-size="13.5" text-anchor="end" font-family="Liberation Serif, serif" font-weight="bold" stroke="#000" stroke-width="0.25">20</text>
<text transform="translate(101.2,636.3) rotate(-90) scale(0.96,1)" font-size="13.5" text-anchor="end" font-family="Liberation Serif, serif" font-weight="bold" stroke="#000" stroke-width="0.25">40</text>
<text transform="translate(121.4,636.3) rotate(-90) scale(0.96,1)" font-size="13.5" text-anchor="end" font-family="Liberation Serif, serif" font-weight="bold" stroke="#000" stroke-width="0.25">90</text>
<text transform="translate(147.6,636.3) rotate(-90) scale(0.96,1)" font-size="13.5" text-anchor="end" font-family="Liberation Serif, serif" font-weight="bold" stroke="#000" stroke-width="0.25">20</text>
<text transform="translate(166.8,636.3) rotate(-90) scale(0.96,1)" font-size="13.5" text-anchor="end" font-family="Liberation Serif, serif" font-weight="bold" stroke="#000" stroke-width="0.25">40</text>
<text transform="translate(184.9,636.3) rotate(-90) scale(0.96,1)" font-size="13.5" text-anchor="end" font-family="Liberation Serif, serif" font-weight="bold" stroke="#000" stroke-width="0.25">90</text>
<text transform="translate(211.3,636.3) rotate(-90) scale(0.96,1)" font-size="13.5" text-anchor="end" font-family="Liberation Serif, serif" font-weight="bold" stroke="#000" stroke-width="0.25">20</text>
<text transform="translate(230.4,636.3) rotate(-90) scale(0.96,1)" font-size="13.5" text-anchor="end" font-family="Liberation Serif, serif" font-weight="bold" stroke="#000" stroke-width="0.25">40</text>
<text transform="translate(248.9,636.3) rotate(-90) scale(0.96,1)" font-size="13.5" text-anchor="end" font-family="Liberation Serif, serif" font-weight="bold" stroke="#000" stroke-width="0.25">90</text>
<text transform="translate(274.9,636.3) rotate(-90) scale(0.96,1)" font-size="13.5" text-anchor="end" font-family="Liberation Serif, serif" font-weight="bold" stroke="#000" stroke-width="0.25">20</text>
<text transform="translate(293.7,636.3) rotate(-90) scale(0.96,1)" font-size="13.5" text-anchor="end" font-family="Liberation Serif, serif" font-weight="bold" stroke="#000" stroke-width="0.25">40</text>
<text transform="translate(312.4,636.3) rotate(-90) scale(0.96,1)" font-size="13.5" text-anchor="end" font-family="Liberation Serif, serif" font-weight="bold" stroke="#000" stroke-width="0.25">90</text>
<text transform="translate(339.4,636.3) rotate(-90) scale(0.96,1)" font-size="13.5" text-anchor="end" font-family="Liberation Serif, serif" font-weight="bold" stroke="#000" stroke-width="0.25">20</text>
<text transform="translate(358.1,636.3) rotate(-90) scale(0.96,1)" font-size="13.5" text-anchor="end" font-family="Liberation Serif, serif" font-weight="bold" stroke="#000" stroke-width="0.25">40</text>
<text transform="translate(376.6,636.3) rotate(-90) scale(0.96,1)" font-size="13.5" text-anchor="end" font-family="Liberation Serif, serif" font-weight="bold" stroke="#000" stroke-width="0.25">90</text>
<text transform="translate(404.2,636.3) rotate(-90) scale(0.96,1)" font-size="13.5" text-anchor="end" font-family="Liberation Serif, serif" font-weight="bold" stroke="#000" stroke-width="0.25">20</text>
<text transform="translate(422.6,636.3) rotate(-90) scale(0.96,1)" font-size="13.5" text-anchor="end" font-family="Liberation Serif, serif" font-weight="bold" stroke="#000" stroke-width="0.25">40</text>
<text transform="translate(441.2,636.3) rotate(-90) scale(0.96,1)" font-size="13.5" text-anchor="end" font-family="Liberation Serif, serif" font-weight="bold" stroke="#000" stroke-width="0.25">90</text>
<text transform="translate(467.6,636.3) rotate(-90) scale(0.96,1)" font-size="13.5" text-anchor="end" font-family="Liberation Serif, serif" font-weight="bold" stroke="#000" stroke-width="0.25">40</text>
<text transform="translate(487.2,636.3) rotate(-90) scale(0.96,1)" font-size="13.5" text-anchor="end" font-family="Liberation Serif, serif" font-weight="bold" stroke="#000" stroke-width="0.25">90</text>
<text transform="translate(503.5,636.3) rotate(-90) scale(0.96,1)" font-size="13.5" text-anchor="end" font-family="Liberation Serif, serif" font-weight="bold" stroke="#000" stroke-width="0.25">120</text>
<text transform="translate(97.4,675) scale(0.97,1)" font-size="15" text-anchor="middle" font-family="Liberation Serif, serif" font-weight="bold" stroke="#000" stroke-width="0.25">50</text>
<text transform="translate(163.4,675) scale(0.97,1)" font-size="15" text-anchor="middle" font-family="Liberation Serif, serif" font-weight="bold" stroke="#000" stroke-width="0.25">14B</text>
<text transform="translate(228.3,675) scale(0.97,1)" font-size="15" text-anchor="middle" font-family="Liberation Serif, serif" font-weight="bold" stroke="#000" stroke-width="0.25">15B</text>
<text transform="translate(290.3,675) scale(0.97,1)" font-size="15" text-anchor="middle" font-family="Liberation Serif, serif" font-weight="bold" stroke="#000" stroke-width="0.25">16A</text>
<text transform="translate(354.2,675) scale(0.97,1)" font-size="15" text-anchor="middle" font-family="Liberation Serif, serif" font-weight="bold" stroke="#000" stroke-width="0.25">16B</text>
<text transform="translate(418.2,675) scale(0.97,1)" font-size="15" text-anchor="middle" font-family="Liberation Serif, serif" font-weight="bold" stroke="#000" stroke-width="0.25">17B</text>
<text transform="translate(482.8,675) scale(0.97,1)" font-size="15" text-anchor="middle" font-family="Liberation Serif, serif" font-weight="bold" stroke="#000" stroke-width="0.25">10C</text>
<line x1="76.7" y1="655.2" x2="116.3" y2="655.2" stroke="#000" stroke-width="1.1"/>
<line x1="142.1" y1="655.2" x2="180.6" y2="655.2" stroke="#000" stroke-width="1.1"/>
<line x1="206.7" y1="655.2" x2="245.8" y2="655.2" stroke="#000" stroke-width="1.1"/>
<line x1="269.4" y1="655.2" x2="307.9" y2="655.2" stroke="#000" stroke-width="1.1"/>
<line x1="334" y1="655.2" x2="373.1" y2="655.2" stroke="#000" stroke-width="1.1"/>
<line x1="397.5" y1="655.2" x2="436.5" y2="655.2" stroke="#000" stroke-width="1.1"/>
<line x1="460.2" y1="655.2" x2="499.8" y2="655.2" stroke="#000" stroke-width="1.1"/>
<text transform="translate(17.7,614.7) rotate(-90)" font-size="15" textLength="73" lengthAdjust="spacingAndGlyphs" word-spacing="0" font-family="Liberation Serif, serif" font-weight="bold" stroke="#000" stroke-width="0.25"><tspan font-size="15.9">CD34</tspan><tspan font-size="8.1" dy="-4.95">+</tspan><tspan dy="4.95"> cells</tspan></text>
<text transform="translate(35.85,646.8) rotate(-90)" font-size="14.6" textLength="132" lengthAdjust="spacingAndGlyphs" word-spacing="-0.8" font-family="Liberation Serif, serif" font-weight="bold" stroke="#000" stroke-width="0.25">expressing GFP (%)</text>
</g>
</svg>
</body></html>
